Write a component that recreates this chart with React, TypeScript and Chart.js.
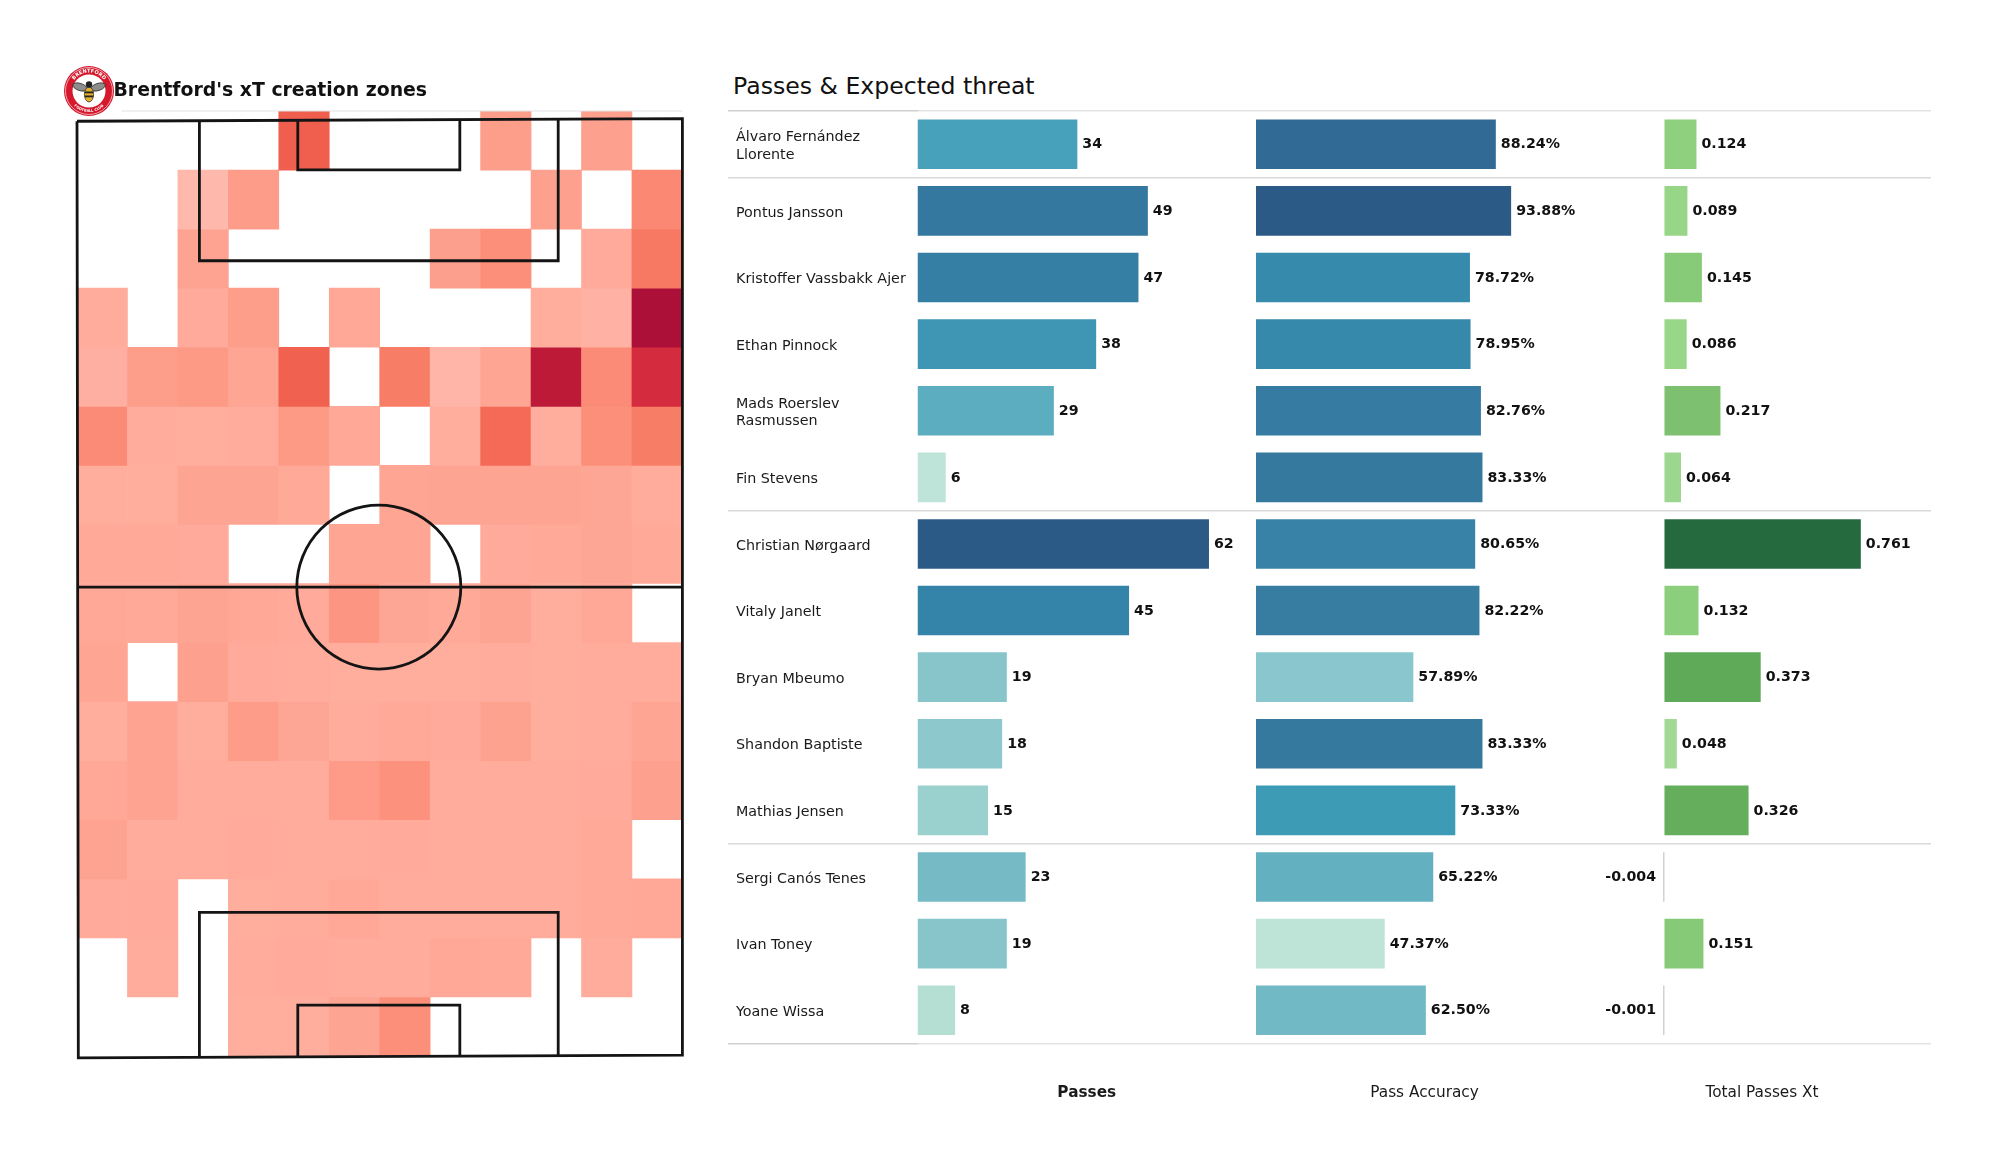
import React, { useEffect, useRef } from "react";
import { Chart, registerables } from "chart.js";

Chart.register(...registerables);

const FONT = '"DejaVu Sans", sans-serif';

const players = [
  ["Álvaro Fernández", "Llorente"],
  "Pontus Jansson",
  "Kristoffer Vassbakk Ajer",
  "Ethan Pinnock",
  ["Mads Roerslev", "Rasmussen"],
  "Fin Stevens",
  "Christian Nørgaard",
  "Vitaly Janelt",
  "Bryan Mbeumo",
  "Shandon Baptiste",
  "Mathias Jensen",
  "Sergi Canós Tenes",
  "Ivan Toney",
  "Yoane Wissa",
];
const passes = [34, 49, 47, 38, 29, 6, 62, 45, 19, 18, 15, 23, 19, 8];
const accuracy = [88.24, 93.88, 78.72, 78.95, 82.76, 83.33, 80.65, 82.22, 57.89, 83.33, 73.33, 65.22, 47.37, 62.5];
const totalXt = [0.124, 0.089, 0.145, 0.086, 0.217, 0.064, 0.761, 0.132, 0.373, 0.048, 0.326, -0.004, 0.151, -0.001];

// Boundaries of the positional groups (line index from the top).
const groupBreaks = [0, 1, 6, 11];

// Heat grid: 16 rows (top to bottom) x 12 columns of xT intensity; null = no value.
const zoneColumns = ["0", "1", "2", "3", "4", "5", "6", "7", "8", "9", "10", "11"];
const zones: (number | null)[][] = [
  [null, null, null, null, 68, null, null, null, 30, null, 28, null],
  [null, null, 12, 31, null, null, null, null, null, 28, null, 44],
  [null, null, 26, null, null, null, null, 29, 40, null, 20, 52],
  [19, null, 20, 30, null, 22, null, null, null, 18, 16, 100],
  [17, 30, 33, 24, 66, null, 50, 14, 24, 92, 42, 82],
  [42, 19, 18, 19, 33, 22, null, 18, 60, 18, 40, 50],
  [18, 18, 25, 25, 21, null, 24, 25, 25, 25, 23, 19],
  [21, 21, 20, null, null, 24, 24, null, 20, 21, 23, 21],
  [22, 21, 25, 22, 20, 36, 23, 21, 25, 18, 22, null],
  [24, null, 28, 20, 19, 18, 18, 18, 19, 18, 19, 19],
  [18, 26, 18, 31, 23, 19, 21, 20, 27, 18, 19, 24],
  [22, 26, 19, 19, 19, 32, 38, 19, 19, 19, 20, 28],
  [26, 19, 19, 20, 19, 19, 20, 19, 19, 19, 21, null],
  [20, 20, null, 18, 19, 22, 19, 19, 19, 19, 21, 22],
  [null, 19, null, 19, 20, 19, 19, 22, 21, null, 19, null],
  [null, null, null, 18, 18, 25, 40, null, null, null, null, null],
];

// Pitch outline and boxes, in metres on a 68 x 105 pitch.
const pitchOutline = [
  { x: 0, y: 0.15 }, { x: 68, y: -0.15 }, { x: 68, y: 104.9 }, { x: 0.15, y: 105.2 }, { x: 0, y: 0.15 },
];
const halfwayLine = [{ x: 0, y: 52.4 }, { x: 68, y: 52.4 }];
const topBox = [{ x: 13.75, y: 0 }, { x: 13.75, y: 15.8 }, { x: 54.05, y: 15.8 }, { x: 54.05, y: 0 }];
const topSix = [{ x: 24.8, y: 0 }, { x: 24.8, y: 5.6 }, { x: 43, y: 5.6 }, { x: 43, y: 0 }];
const bottomBox = [{ x: 13.75, y: 105 }, { x: 13.75, y: 88.9 }, { x: 54.05, y: 88.9 }, { x: 54.05, y: 105 }];
const bottomSix = [{ x: 24.8, y: 105 }, { x: 24.8, y: 99.3 }, { x: 43, y: 99.3 }, { x: 43, y: 105 }];
const centreSpot = [{ x: 33.9, y: 52.4 }];
const topRule = [{ x: 5, y: -1 }, { x: 68, y: -1 }];

type Stop = [number, string];
const heatRamp: Stop[] = [
  [10, "#ffbcb0"], [20, "#ffaa9a"], [30, "#fd9e8b"], [40, "#fc8f7a"], [50, "#f87d66"],
  [60, "#f46a57"], [70, "#ef5b4c"], [80, "#d93040"], [90, "#c11d38"], [100, "#ac1038"],
];
const passRamp: Stop[] = [
  [6, "#bee3d8"], [8, "#b5dfd3"], [15, "#9ad0ce"], [19, "#87c5cb"], [23, "#75bac5"], [29, "#5dadc0"],
  [34, "#47a1ba"], [38, "#3e96b4"], [45, "#3483a8"], [49, "#35789f"], [62, "#2c5a87"],
];
const accuracyRamp: Stop[] = [
  [47.37, "#bee4d8"], [57.89, "#8ac6cd"], [62.5, "#71b9c5"], [65.22, "#63b0c1"], [73.33, "#3d9bb6"],
  [78.9, "#3689ab"], [80.65, "#3882a7"], [83.33, "#36799f"], [88.24, "#316b95"], [93.88, "#2c5a87"],
];
const xtRamp: Stop[] = [
  [-0.001, "#cfcfcf"], [0.048, "#a3d994"], [0.064, "#9dd68e"], [0.086, "#98d688"], [0.124, "#8ed07e"],
  [0.145, "#87cb79"], [0.217, "#7cc070"], [0.326, "#65ae5c"], [0.373, "#5eaa59"], [0.761, "#256a3f"],
];

function rampColor(ramp: Stop[], v: number): string {
  if (v <= ramp[0][0]) return ramp[0][1];
  for (let i = 1; i < ramp.length; i++) {
    if (v <= ramp[i][0]) {
      const [a, ca] = ramp[i - 1];
      const [b, cb] = ramp[i];
      const t = (v - a) / (b - a);
      const ch = (c: string, k: number) => parseInt(c.slice(1 + k * 2, 3 + k * 2), 16);
      const m = [0, 1, 2].map((k) => Math.round(ch(ca, k) + (ch(cb, k) - ch(ca, k)) * t));
      return `rgb(${m[0]},${m[1]},${m[2]})`;
    }
  }
  return ramp[ramp.length - 1][1];
}

function HeatMap() {
  const ref = useRef<HTMLCanvasElement>(null);
  useEffect(() => {
    const yMin = -1;
    const yMax = 105;
    const rowH = (yMax - yMin) / zones.length;
    const cells = zones.map((row, r) => ({
      type: "bar" as const,
      xAxisID: "x",
      yAxisID: "y",
      grouped: false,
      order: 2,
      barPercentage: 1,
      categoryPercentage: 1,
      borderWidth: 0,
      data: row.map((v) => (v === null ? null : [yMin + r * rowH, yMin + (r + 1) * rowH])),
      backgroundColor: row.map((v) => (v === null ? "transparent" : rampColor(heatRamp, v))),
    }));
    const line = (data: { x: number; y: number }[], color = "#141414", width = 2.8) => ({
      type: "scatter" as const,
      xAxisID: "px",
      yAxisID: "y",
      order: 1,
      showLine: true,
      clip: false,
      borderColor: color,
      borderWidth: width,
      pointRadius: 0,
      data,
    });
    const chart = new Chart(ref.current!, {
      type: "bar",
      data: {
        labels: zoneColumns,
        datasets: [
          ...cells,
          line(topRule, "#e2e2e2", 1.2),
          line(pitchOutline),
          line(halfwayLine),
          line(topBox),
          line(topSix),
          line(bottomBox),
          line(bottomSix),
          {
            type: "scatter" as const,
            xAxisID: "px",
            yAxisID: "y",
            order: 1,
            clip: false,
            data: centreSpot,
            pointRadius: 82,
            pointBackgroundColor: "transparent",
            pointBorderColor: "#141414",
            pointBorderWidth: 2.8,
          },
        ] as any,
      },
      options: {
        responsive: false,
        animation: false,
        devicePixelRatio: 1,
        layout: { autoPadding: false, padding: { left: 17, right: 17.6, top: 16, bottom: 19 } },
        plugins: { legend: { display: false }, tooltip: { enabled: false } },
        scales: {
          x: { display: false, type: "category", offset: true },
          px: { display: false, type: "linear", min: 0, max: 68, axis: "x", offset: false } as any,
          y: { display: false, type: "linear", reverse: true, min: yMin, max: yMax },
        },
      } as any,
    });
    return () => chart.destroy();
  }, []);
  return (
    <canvas
      ref={ref}
      width={640}
      height={980}
      style={{ position: "absolute", left: 60, top: 95, width: 640, height: 980 }}
    />
  );
}

const valueLabels = (format: (v: number) => string) => ({
  id: "valueLabels",
  afterDatasetsDraw(chart: any) {
    const ctx = chart.ctx;
    const meta = chart.getDatasetMeta(0);
    const values = chart.data.datasets[0].data as number[];
    ctx.save();
    ctx.font = `bold 14.2px ${FONT}`;
    ctx.fillStyle = "#111111";
    ctx.textBaseline = "middle";
    meta.data.forEach((el: any, i: number) => {
      const v = values[i];
      ctx.textAlign = v < 0 ? "right" : "left";
      ctx.fillText(format(v), el.x + (v < 0 ? -7 : 5), el.y + 0.5);
    });
    ctx.restore();
  },
});

function BarPanel(props: {
  values: number[];
  ramp: Stop[];
  min: number;
  max: number;
  title: string;
  titleBold?: boolean;
  left: number;
  width: number;
  withNames?: boolean;
  format: (v: number) => string;
}) {
  const ref = useRef<HTMLCanvasElement>(null);
  const { values, ramp, min, max, title, titleBold, left, width, withNames, format } = props;
  useEffect(() => {
    const lineColor = (ctx: any, outer: string) => {
      if (ctx.index === undefined || ctx.index === 0) return outer;
      return groupBreaks.includes(ctx.index) ? "#dadada" : "transparent";
    };
    const chart = new Chart(ref.current!, {
      type: "bar",
      data: {
        labels: players,
        datasets: [
          {
            data: values,
            backgroundColor: values.map((v) => rampColor(ramp, v)),
            borderWidth: 0,
            barPercentage: 0.745,
            categoryPercentage: 1,
            minBarLength: 1.4,
          },
        ],
      },
      options: {
        indexAxis: "y",
        responsive: false,
        animation: false,
        devicePixelRatio: 1,
        layout: { padding: { left: withNames ? 8 : 0, right: 0, top: 10, bottom: 0 } },
        plugins: { legend: { display: false }, tooltip: { enabled: false } },
        scales: {
          x: {
            type: "linear",
            min,
            max,
            grid: { display: false },
            border: { display: false },
            ticks: { display: false },
            title: {
              display: true,
              text: title,
              color: "#1a1a1a",
              padding: 0,
              font: { family: FONT, size: 15.3, weight: titleBold ? "bold" : "normal", lineHeight: 1.2 },
            },
            afterFit: (s: any) => {
              s.height = 58.5;
            },
          },
          y: {
            type: "category",
            border: { display: false },
            grid: {
              display: true,
              lineWidth: 1.5,
              color: (c: any) => lineColor(c, "#e3e3e3"),
              drawTicks: !!withNames,
              tickLength: withNames ? 189.5 : 0,
              tickColor: (c: any) => lineColor(c, "#d0d0d0"),
              tickWidth: 1.5,
            },
            ticks: {
              display: !!withNames,
              autoSkip: false,
              crossAlign: "far",
              labelOffset: 2,
              color: "#1a1a1a",
              font: { family: FONT, size: 14.3, lineHeight: 1.25 },
            },
            afterFit: (s: any) => {
              s.width = withNames ? 181.5 : 0;
              s.paddingTop = 0;
              s.paddingBottom = 0;
            },
          },
        },
      } as any,
      plugins: [valueLabels(format)],
    });
    return () => chart.destroy();
  }, []);
  return (
    <canvas
      ref={ref}
      width={width}
      height={1001}
      style={{ position: "absolute", left, top: 101, width, height: 1001 }}
    />
  );
}

function Logo() {
  return (
    <svg
      width={52}
      height={52}
      viewBox="0 0 52 52"
      style={{ position: "absolute", left: 63, top: 65 }}
    >
      <defs>
        <path id="arcTop" d="M 7.5 26 A 18.5 18.5 0 0 1 44.5 26" />
        <path id="arcBottom" d="M 5 26 A 21 21 0 0 0 47 26" />
      </defs>
      <circle cx={26} cy={26} r={25} fill="#d5182b" />
      <circle cx={26} cy={26} r={23.5} fill="none" stroke="#ffffff" strokeWidth={0.6} />
      <circle cx={26} cy={26} r={16.5} fill="#ffffff" />
      <text fontFamily={FONT} fontSize={5} fontWeight="bold" fill="#ffffff" textAnchor="middle">
        <textPath href="#arcTop" startOffset="50%">BRENTFORD</textPath>
      </text>
      <text fontFamily={FONT} fontSize={3.6} fontWeight="bold" fill="#ffffff" textAnchor="middle">
        <textPath href="#arcBottom" startOffset="50%">FOOTBALL CLUB</textPath>
      </text>
      <ellipse cx={17} cy={22} rx={7.5} ry={3.6} fill="#8d8d8d" stroke="#222" strokeWidth={0.7} transform="rotate(18 17 22)" />
      <ellipse cx={35} cy={22} rx={7.5} ry={3.6} fill="#8d8d8d" stroke="#222" strokeWidth={0.7} transform="rotate(-18 35 22)" />
      <ellipse cx={26} cy={29.5} rx={4.6} ry={7.5} fill="#e2ae2e" stroke="#222" strokeWidth={0.7} />
      <rect x={21.8} y={26.5} width={8.4} height={1.8} fill="#222" />
      <rect x={21.8} y={30.5} width={8.4} height={1.8} fill="#222" />
      <circle cx={26} cy={19.5} r={3.2} fill="#222" />
    </svg>
  );
}

const textBase: React.CSSProperties = {
  position: "absolute",
  fontFamily: FONT,
  whiteSpace: "nowrap",
  color: "#111111",
  lineHeight: "30px",
  height: 30,
};

export default function App() {
  return (
    <div style={{ position: "fixed", inset: 0, background: "#ffffff" }}>
      <HeatMap />
      <BarPanel
        values={passes}
        ramp={passRamp}
        min={0}
        max={72}
        title="Passes"
        titleBold
        left={728}
        width={528}
        withNames
        format={(v) => String(v)}
      />
      <BarPanel
        values={accuracy}
        ramp={accuracyRamp}
        min={0}
        max={124}
        title="Pass Accuracy"
        left={1256}
        width={337}
        format={(v) => `${v.toFixed(2)}%`}
      />
      <BarPanel
        values={totalXt}
        ramp={xtRamp}
        min={-0.277}
        max={1.033}
        title="Total Passes Xt"
        left={1593}
        width={338}
        format={(v) => v.toFixed(3)}
      />
      <Logo />
      <div style={{ ...textBase, left: 113.5, top: 75, fontSize: 18.85, fontWeight: "bold" }}>
        Brentford's xT creation zones
      </div>
      <div style={{ ...textBase, left: 733, top: 70.5, fontSize: 23.6 }}>Passes &amp; Expected threat</div>
    </div>
  );
}
